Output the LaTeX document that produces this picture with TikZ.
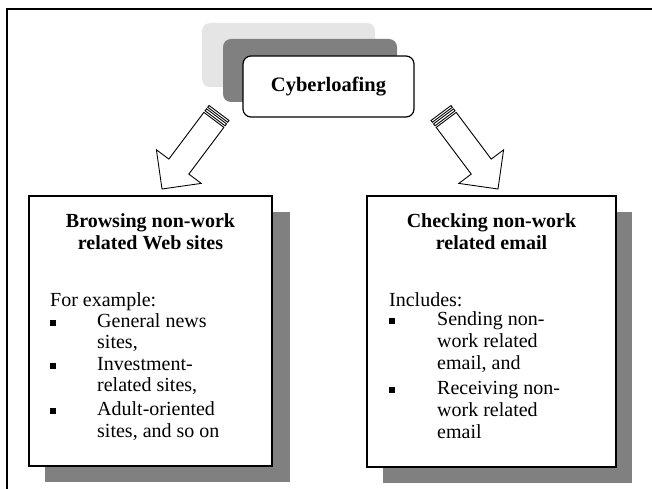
\documentclass[tikz,border=0pt]{standalone}
\usepackage{fontspec}
\setmainfont{Liberation Serif}
\begin{document}
\begin{tikzpicture}[x=1pt,y=-1pt,
  frameline/.style={line width=2pt,black},
  boxstyle/.style={draw=black,line width=1.5pt,fill=white,inner sep=0pt},
  shadowfill/.style={fill=black!50},
  blockarrow/.style={draw=black,line width=0.9pt,fill=white,line join=miter},
  ttl/.style={anchor=base,inner sep=0pt,font=\fontsize{20}{22}\selectfont\bfseries},
  txt/.style={anchor=base west,inner sep=0pt,font=\fontsize{20}{22}\selectfont},
  bul/.style={anchor=base west,inner sep=0pt,font=\fontsize{20}{22}\selectfont}
]
\useasboundingbox (0,0) rectangle (652,489);
\fill[white] (0,0) rectangle (652,489);
% frame
\coordinate (fbl) at (7,489);
\coordinate (ftl) at (7,9);
\coordinate (ftr) at (652,9);
\draw[frameline] (fbl) -- (ftl) -- (ftr);

% stacked top boxes
\fill[black!10,rounded corners=8pt] (202,23) rectangle (375,87);
\fill[black!50,rounded corners=8pt] (223,39) rectangle (397,102);
\node[draw=black,line width=1.2pt,fill=white,rounded corners=8pt,minimum width=171pt,minimum height=61pt,inner sep=0pt,font=\fontsize{20.5}{22}\selectfont\bfseries] (cyber) at (328.5,86.5) {Cyberloafing};

% left arrow
\begin{scope}[shift={(219,113)},rotate=233.13]
  \draw[blockarrow] (0,-12.5) rectangle (2.2,12.5);
  \draw[blockarrow] (4.2,-12.5) rectangle (6.6,12.5);
  \draw[blockarrow] (8.6,-12.5) -- (67,-12.5) -- (67,-28) -- (95,0) -- (67,28) -- (67,12.5) -- (8.6,12.5) -- cycle;
\end{scope}
% right arrow
\begin{scope}[shift={(441,113)},rotate=-53.13]
  \draw[blockarrow] (0,-12.5) rectangle (2.2,12.5);
  \draw[blockarrow] (4.2,-12.5) rectangle (6.6,12.5);
  \draw[blockarrow] (8.6,-12.5) -- (67,-12.5) -- (67,-28) -- (95,0) -- (67,28) -- (67,12.5) -- (8.6,12.5) -- cycle;
\end{scope}

% left box
\fill[shadowfill] (45,212) rectangle (290,482);
\node[boxstyle,minimum width=243pt,minimum height=270pt] (lbox) at (150.5,331) {};
\node[ttl] (l1) at (150.5,227) {Browsing non-work};
\node[ttl] (l2) at (150.5,249) {related Web sites};
\node[txt] (l3) at (50,306) {For example:};
\node[bul] (lb1) at (50,327) {\raisebox{1.5pt}{\rule{6pt}{6pt}}};
\node[txt] (l4) at (97,327) {General news};
\node[txt] (l5) at (97,348) {sites,};
\node[bul] (lb2) at (50,370) {\raisebox{1.5pt}{\rule{6pt}{6pt}}};
\node[txt] (l6) at (97,370) {Investment-};
\node[txt] (l7) at (97,391) {related sites,};
\node[bul] (lb3) at (50,415) {\raisebox{1.5pt}{\rule{6pt}{6pt}}};
\node[txt] (l8) at (97,415) {Adult-oriented};
\node[txt] (l9) at (97,437) {sites, and so on};

% right box
\fill[shadowfill] (383,212) rectangle (632,483);
\node[boxstyle,minimum width=249pt,minimum height=271pt] (rbox) at (491.5,331.5) {};
\node[ttl] (r1) at (491.5,227) {Checking non-work};
\node[ttl] (r2) at (491.5,249) {related email};
\node[txt] (r3) at (389,306) {Includes:};
\node[bul] (rb1) at (389,325) {\raisebox{1.5pt}{\rule{6pt}{6pt}}};
\node[txt] (r4) at (437,325) {Sending non-};
\node[txt] (r5) at (437,347) {work related};
\node[txt] (r6) at (437,369) {email, and};
\node[bul] (rb2) at (389,394) {\raisebox{1.5pt}{\rule{6pt}{6pt}}};
\node[txt] (r7) at (437,394) {Receiving non-};
\node[txt] (r8) at (437,416) {work related};
\node[txt] (r9) at (437,438) {email};
\end{tikzpicture}
\end{document}
